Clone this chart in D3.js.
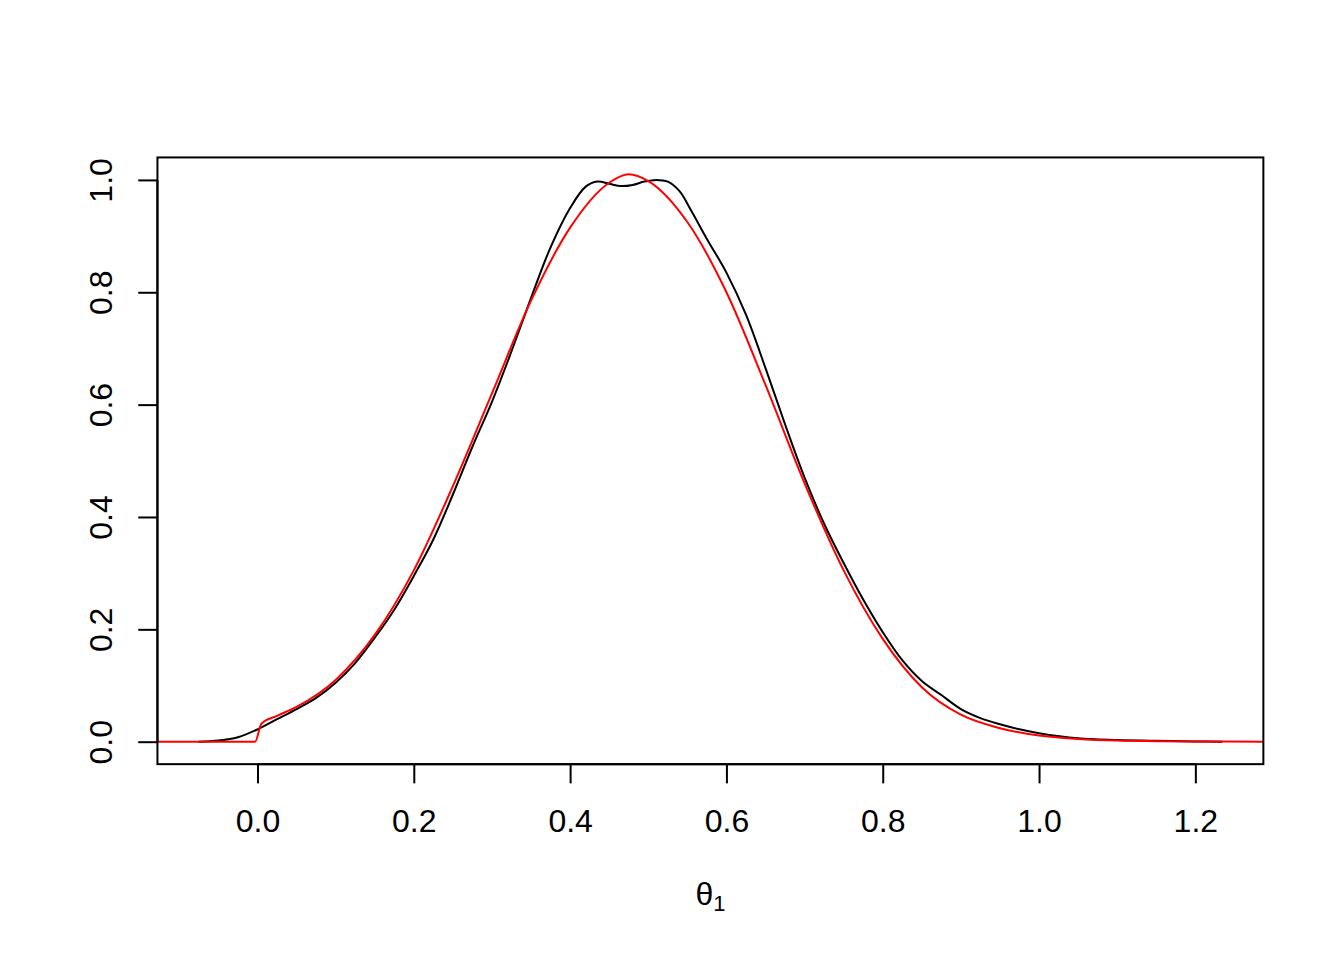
<!DOCTYPE html>
<html>
<head>
<meta charset="utf-8">
<script src="https://cdn.jsdelivr.net/npm/d3@7"></script>
<style>
  body { margin: 0; background: #fff; }
  svg { display: block; }
  text { font-family: "Liberation Sans", Arial, Helvetica, sans-serif; }
</style>
</head>
<body>
<svg id="chart" width="1344" height="960"></svg>
<script>
// Black curve: density estimate
const blackX = [-0.0756, -0.05, -0.025, 0, 0.025, 0.05, 0.075, 0.1, 0.125, 0.15, 0.175, 0.2, 0.225, 0.25, 0.275, 0.3, 0.325, 0.35, 0.375, 0.4, 0.42, 0.435, 0.45, 0.465, 0.48, 0.495, 0.51, 0.525, 0.54, 0.555, 0.575, 0.6, 0.625, 0.65, 0.675, 0.7, 0.725, 0.75, 0.775, 0.8, 0.825, 0.85, 0.875, 0.9, 0.925, 0.95, 0.975, 1.0, 1.05, 1.1, 1.15, 1.2, 1.2346];
const blackY = [0, 0.002, 0.008, 0.022, 0.040, 0.058, 0.078, 0.105, 0.14, 0.185, 0.235, 0.295, 0.36, 0.44, 0.525, 0.605, 0.695, 0.79, 0.88, 0.95, 0.988, 0.997, 0.993, 0.989, 0.991, 0.997, 1.0, 0.997, 0.98, 0.945, 0.895, 0.835, 0.76, 0.665, 0.565, 0.47, 0.388, 0.318, 0.253, 0.195, 0.145, 0.108, 0.083, 0.058, 0.042, 0.031, 0.022, 0.015, 0.006, 0.003, 0.0015, 0.0005, 0];

// Red curve: reference density
const redX = [-0.128, -0.003, 0.005, 0.025, 0.05, 0.1, 0.15, 0.2, 0.25, 0.3, 0.35, 0.4, 0.45, 0.475, 0.5, 0.55, 0.6, 0.65, 0.7, 0.75, 0.8, 0.85, 0.9, 0.95, 1.0, 1.05, 1.1, 1.15, 1.2, 1.287];
const redY = [0, 0, 0.032, 0.046, 0.062, 0.11, 0.19, 0.305, 0.455, 0.62, 0.785, 0.915, 0.995, 1.01, 0.998, 0.925, 0.80, 0.635, 0.46, 0.305, 0.183, 0.097, 0.048, 0.024, 0.011, 0.005, 0.002, 0.001, 0.0004, 0];

const xTicks = [0.0, 0.2, 0.4, 0.6, 0.8, 1.0, 1.2];
const yTicks = [0.0, 0.2, 0.4, 0.6, 0.8, 1.0];

const W = 1344, H = 960;
const lineH = 38.4;
const margin = { left: 4.1 * lineH, right: 2.1 * lineH, top: 4.1 * lineH, bottom: 5.1 * lineH };
const x0 = margin.left, x1 = W - margin.right, y0 = margin.top, y1 = H - margin.bottom;

const xe = d3.extent(blackX), ye = [0, d3.max(blackY)];
const xpad = (xe[1] - xe[0]) * 0.04, ypad = (ye[1] - ye[0]) * 0.04;
const x = d3.scaleLinear().domain([xe[0] - xpad, xe[1] + xpad]).range([x0, x1]);
const y = d3.scaleLinear().domain([ye[0] - ypad, ye[1] + ypad]).range([y1, y0]);

const svg = d3.select("#chart");
svg.append("rect").attr("width", W).attr("height", H).attr("fill", "#fff");

svg.append("clipPath").attr("id", "clip")
  .append("rect").attr("x", x0).attr("y", y0).attr("width", x1 - x0).attr("height", y1 - y0);

const blackLine = d3.line().x(d => x(d[0])).y(d => y(d[1])).curve(d3.curveCatmullRom.alpha(0.5));
const redLine = d3.line().x(d => x(d[0])).y(d => y(d[1])).curve(d3.curveMonotoneX);

const g = svg.append("g").attr("clip-path", "url(#clip)");
g.append("path").datum(d3.zip(blackX, blackY))
  .attr("d", blackLine).attr("fill", "none").attr("stroke", "#000").attr("stroke-width", 2);
g.append("path").datum(d3.zip(redX, redY))
  .attr("d", redLine).attr("fill", "none").attr("stroke", "#ff0000").attr("stroke-width", 2);

// Box
svg.append("rect").attr("x", x0).attr("y", y0).attr("width", x1 - x0).attr("height", y1 - y0)
  .attr("fill", "none").attr("stroke", "#000").attr("stroke-width", 2);

// X axis
const xAxis = d3.axisBottom(x).tickValues(xTicks).tickFormat(d3.format(".1f")).tickSize(19.2).tickPadding(26);
const gx = svg.append("g").attr("transform", `translate(0,${y1})`).call(xAxis);
gx.select(".domain").remove();
gx.selectAll("line").attr("stroke", "#000").attr("stroke-width", 2);
gx.selectAll("text").attr("font-size", 32).attr("fill", "#000")
  .attr("font-family", "'Liberation Sans', Arial, sans-serif");
svg.append("line").attr("x1", x(xTicks[0])).attr("x2", x(xTicks[xTicks.length - 1]))
  .attr("y1", y1).attr("y2", y1).attr("stroke", "#000").attr("stroke-width", 2);

// Y axis
const yAxis = d3.axisLeft(y).tickValues(yTicks).tickFormat(d3.format(".1f")).tickSize(19.2);
const gy = svg.append("g").attr("transform", `translate(${x0},0)`).call(yAxis);
gy.select(".domain").remove();
gy.selectAll("line").attr("stroke", "#000").attr("stroke-width", 2);
gy.selectAll("text").attr("font-size", 32).attr("fill", "#000")
  .attr("font-family", "'Liberation Sans', Arial, sans-serif")
  .attr("x", 0).attr("y", 0).attr("dy", 0)
  .attr("text-anchor", "middle")
  .attr("transform", "translate(-45,0) rotate(-90)");
svg.append("line").attr("x1", x0).attr("x2", x0)
  .attr("y1", y(yTicks[0])).attr("y2", y(yTicks[yTicks.length - 1]))
  .attr("stroke", "#000").attr("stroke-width", 2);

// X label θ1
const lab = svg.append("text").attr("x", (x0 + x1) / 2).attr("y", 905)
  .attr("text-anchor", "middle").attr("font-size", 32).attr("fill", "#000");
lab.append("tspan").text("θ");
lab.append("tspan").attr("font-size", 22).attr("dy", 6).text("1");
</script>
</body>
</html>
